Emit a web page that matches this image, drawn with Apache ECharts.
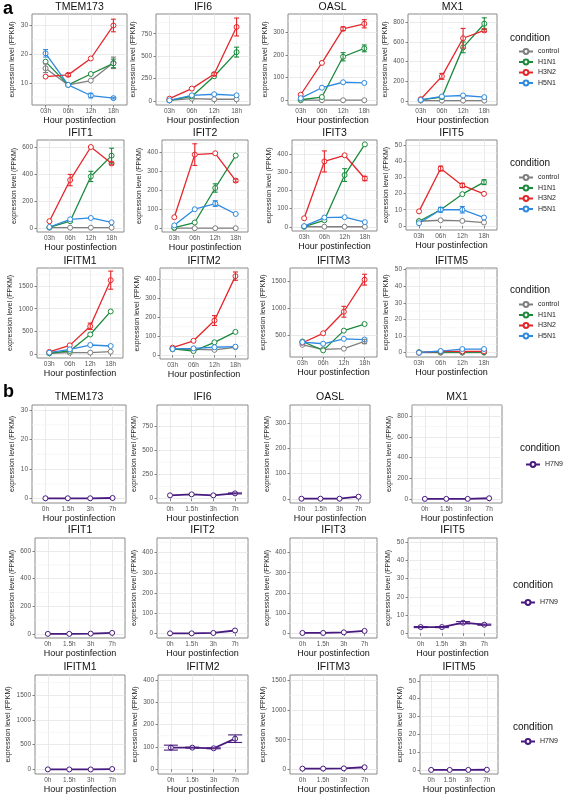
<!DOCTYPE html>
<html><head><meta charset="utf-8">
<script src="https://cdn.jsdelivr.net/npm/echarts@6/dist/echarts.min.js"></script>
<style>html,body{margin:0;padding:0;background:#fff}#c{width:567px;height:796px}</style>
</head><body><div id="c"></div><script>
// ---------- DATA ----------
const timesA = ['03h','06h','12h','18h'];
const timesB = ['0h','1.5h','3h','7h'];
const genes = ['TMEM173','IFI6','OASL','MX1','IFIT1','IFIT2','IFIT3','IFIT5','IFITM1','IFITM2','IFITM3','IFITM5'];
const conditionsA = ['control','H1N1','H3N2','H5N1'];
const conditionB = 'H7N9';

// panel a: mean FPKM at 03h, 06h, 12h, 18h
const control = {TMEM173:[15.1,9.3,10.8,17],IFI6:[7,26,19,19],OASL:[1,1,1,1],MX1:[3,3,3,3],
  IFIT1:[2,2,2,2],IFIT2:[0,0,0,0],IFIT3:[0.5,0.5,0.5,0.5],IFIT5:[2.9,3.5,3.1,2.1],
  IFITM1:[15,29,29,51],IFITM2:[31,31,28,42],IFITM3:[330,245,258,391],IFITM5:[0,0,0,0]};
const H1N1 = {TMEM173:[17.4,9.3,13.1,16.8],IFI6:[7,50,276,545],OASL:[3,15,192,229],MX1:[10,38,545,786],
  IFIT1:[5,50,382,536],IFIT2:[3,30,212,383],IFIT3:[1,36,285,454],IFIT5:[2.9,10,19.6,27],
  IFITM1:[15,66,430,940],IFITM2:[33,22,68,123],IFITM3:[391,227,591,712],IFITM5:[0.3,0.3,0.3,0.3]};
const H3N2 = {TMEM173:[12.2,12.8,18.5,30],IFI6:[26,138,300,825],OASL:[25,165,315,337],MX1:[17,250,638,718],
  IFIT1:[50,355,600,478],IFIT2:[58,388,395,251],IFIT3:[47,360,394,266],IFIT5:[9,35.4,25,19.8],
  IFITM1:[44,189,612,1631],IFITM2:[40,76,183,417],IFITM3:[367,542,939,1530],IFITM5:[0,0.8,0.8,0.8]};
const H5N1 = {TMEM173:[20.3,9.3,5.6,4.7],IFI6:[7,63,75,63],OASL:[10,56,80,77],MX1:[10,45,55,38],
  IFIT1:[7,64,74,42],IFIT2:[15,100,130,75],IFIT3:[4,51,53,26],IFIT5:[1.7,10,10,5.2],
  IFITM1:[29,102,197,175],IFITM2:[33,36,42,45],IFITM3:[379,349,439,427],IFITM5:[0,1,2.2,2.2]};
// error half-widths (panel a)
const errControl = {TMEM173:[1.5,0,0,2],IFITM3:[0,0,0,40]};
const errH1N1 = {TMEM173:[0,0,0,1.5],IFI6:[0,0,0,55],OASL:[0,0,18,15],MX1:[0,0,55,60],IFIT1:[0,0,38,55],
  IFIT2:[0,0,22,0],IFIT3:[0,0,35,0],IFIT5:[0,0,0,1.5]};
const errH3N2 = {TMEM173:[0,0.5,0,2.2],IFI6:[0,0,15,100],OASL:[0,0,8,18],MX1:[0,30,100,15],IFIT1:[0,42,0,10],
  IFIT2:[0,57,0,8],IFIT3:[0,58,0,12],IFIT5:[0,1.5,1.3,0],IFITM1:[0,0,70,200],IFITM2:[0,0,26,22],IFITM3:[0,0,100,100]};
const errH5N1 = {TMEM173:[1.3,0,0.8,0.3],IFIT2:[0,0,15,0],IFIT5:[0,1.5,2,0]};

// panel b: H7N9 at 0h, 1.5h, 3h, 7h
const H7N9 = {TMEM173:[0.1,0.1,0.1,0.2],IFI6:[34,44,34,54],OASL:[1,1,1,9],MX1:[0,0,0,6],
  IFIT1:[0,0,2,7],IFIT2:[1,1,3,15],IFIT3:[2,2,5,12],IFIT5:[3.4,3.4,5.8,4.7],
  IFITM1:[3,2,2,10],IFITM2:[97,97,94,137],IFITM3:[11,12,15,34],IFITM5:[0,0,0,0.1]};
const errH7N9 = {IFI6:[0,0,0,5],IFIT5:[0.3,0.3,0.6,0.3],IFITM2:[11,2,2,17]};

// y tick labels and axis limits
const yTicksA = {TMEM173:[10,20,30],IFI6:[0,250,500,750],OASL:[0,100,200,300],MX1:[0,200,400,600,800],
  IFIT1:[0,200,400,600],IFIT2:[0,100,200,300,400],IFIT3:[0,100,200,300,400],IFIT5:[0,10,20,30,40,50],
  IFITM1:[0,500,1000,1500],IFITM2:[0,100,200,300,400],IFITM3:[500,1000,1500],IFITM5:[0,10,20,30,40,50]};
const yTicksB = {TMEM173:[0,10,20,30],IFI6:[0,250,500,750],OASL:[0,100,200,300],MX1:[0,200,400,600,800],
  IFIT1:[0,200,400,600],IFIT2:[0,100,200,300,400],IFIT3:[0,100,200,300,400],IFIT5:[0,10,20,30,40,50],
  IFITM1:[0,500,1000,1500],IFITM2:[0,100,200,300,400],IFITM3:[0,500,1000,1500],IFITM5:[0,10,20,30,40,50]};
const yLimitsA = {TMEM173:[2.3,34],IFI6:[-45,970],OASL:[-20,380],MX1:[-42,885],IFIT1:[-30,652],IFIT2:[-20,465],
  IFIT3:[-23,478],IFIT5:[-2.5,53],IFITM1:[-90,1900],IFITM2:[-20,460],IFITM3:[105,1745],IFITM5:[-2.6,51]};
const yLimitsB = {TMEM173:[-1.5,31.7],IFI6:[-45,965],OASL:[-16,372],MX1:[-40,910],IFIT1:[-30,695],IFIT2:[-22,472],
  IFIT3:[-23,472],IFIT5:[-2.6,52.3],IFITM1:[-90,1900],IFITM2:[-21,422],IFITM3:[-80,1596],IFITM5:[-2.3,53.3]};

// ---------- STYLE / LAYOUT ----------
const colorsA = {control:'#7f7f7f',H1N1:'#1c8a3c',H3N2:'#e5262b',H5N1:'#2e8ae0'};
const colorB = '#48197f';
const valuesA = {control, H1N1, H3N2, H5N1};
const errorsA = {control:errControl, H1N1:errH1N1, H3N2:errH3N2, H5N1:errH5N1};
const boxesA = [
 [32,127,14,105],[156,250,14,105],[288,377,14,105],[408,497,14,105],
 [37,124,140,232],[162,248,140,232],[292,377,140,231],[406,497,140,230],
 [37,123,268,358],[160,248,268,359],[290,377,268,357],[406,497,268,357]];
const boxesB = [
 [32,126,405,503],[157,248,405,503],[290,370,405,503],[412,502,405,503],
 [35,125,538,638],[157,248,538,638],[290,377,538,638],[408,497,538,638],
 [35,125,675,774],[158,248,675,774],[290,377,675,774],[420,498,675,774]];

const FONT = 'Liberation Sans, Arial, sans-serif';
const grids=[], xAxes=[], yAxes=[], series=[], graphics=[], legends=[];
let gi = 0;

function errRenderer(half){
  return function(params, api){
    const x = api.value(0), lo = api.value(1), hi = api.value(2);
    const p1 = api.coord([x, lo]), p2 = api.coord([x, hi]);
    const st = {stroke: api.visual('color'), lineWidth: 1.1};
    return {type:'group', children:[
      {type:'line', shape:{x1:p1[0],y1:p1[1],x2:p2[0],y2:p2[1]}, style:st},
      {type:'line', shape:{x1:p1[0]-half,y1:p1[1],x2:p1[0]+half,y2:p1[1]}, style:st},
      {type:'line', shape:{x1:p2[0]-half,y1:p2[1],x2:p2[0]+half,y2:p2[1]}, style:st}]};
  };
}
function minorRender(params, api){
  const cs = params.coordSys;
  const y = api.coord([1, api.value(1)])[1];
  return {type:'line', shape:{x1:cs.x, y1:y, x2:cs.x+cs.width, y2:y}, style:{stroke:'#f2f2f2', lineWidth:0.7}};
}

function addPanel(gene, box, cats, ticks, lim, defs, capHalf, lineW, titleGap){
  const [l, r, t, b] = box;
  grids.push({left:l, top:t, width:r-l, height:b-t, show:true, borderColor:'#8a8a8a', borderWidth:1, backgroundColor:'#fff'});
  const maxLab = Math.max(...ticks.map(v=>String(v).length));
  xAxes.push({gridIndex:gi, type:'value', min:0.4, max:4.6,
    axisLine:{show:false},
    axisTick:{show:true, customValues:[1,2,3,4], length:2.5, lineStyle:{color:'#666', width:0.8}},
    axisLabel:{customValues:[1,2,3,4], formatter:v=>cats[Math.round(v)-1], fontSize:6.5, color:'#555', margin:3, fontFamily:FONT},
    splitLine:{show:true, lineStyle:{color:'#e4e4e4', width:0.8}},
    name:'Hour postinfection', nameLocation:'middle', nameGap:8,
    nameTextStyle:{fontSize:9, color:'#111', fontFamily:FONT}});
  yAxes.push({gridIndex:gi, type:'value', min:lim[0], max:lim[1],
    axisLine:{show:false},
    axisTick:{show:true, customValues:ticks, length:2.5, lineStyle:{color:'#666', width:0.8}},
    axisLabel:{customValues:ticks, formatter:v=>String(v), fontSize:6.5, color:'#555', margin:4, fontFamily:FONT},
    splitLine:{show:true, lineStyle:{color:'#e4e4e4', width:0.8}},
    name:'expression level (FPKM)', nameLocation:'middle', nameGap: maxLab*3.6 + 9,
    nameTextStyle:{fontSize:7, color:'#222', fontFamily:FONT}});
  // minor grid lines halfway between the major ticks
  const step = ticks[1]-ticks[0];
  const minors = [];
  for (let v = ticks[0]-step/2; v <= lim[1]; v += step) if (v >= lim[0]) minors.push([1, v]);
  series.push({type:'custom', xAxisIndex:gi, yAxisIndex:gi, z:1, silent:true, data:minors,
    renderItem:minorRender, encode:{x:0, y:1}});
  defs.forEach(d => {
    series.push({type:'line', name:d.name, xAxisIndex:gi, yAxisIndex:gi, z:2,
      data:d.values.map((v,i)=>[i+1, v]),
      symbol:'circle', symbolSize:5, showAllSymbol:true,
      lineStyle:{color:d.color, width:lineW},
      itemStyle:{color:'#fff', borderColor:d.color, borderWidth:1},
      emphasis:{disabled:true}, animation:false});
    const err = d.err || [];
    const eb = [];
    d.values.forEach((v,i) => { if (err[i]) eb.push([i+1, v-err[i], v+err[i]]); });
    if (eb.length) series.push({type:'custom', xAxisIndex:gi, yAxisIndex:gi, z:3, silent:true,
      itemStyle:{color:d.color}, data:eb, renderItem:errRenderer(capHalf), encode:{x:0, y:[1,2]}});
  });
  graphics.push({type:'text', x:(l+r)/2, y:t-titleGap, style:{text:gene, fill:'#111', font:'10.5px '+FONT,
    align:'center', verticalAlign:'bottom'}});
  gi++;
}

genes.forEach((g, k) => {
  addPanel(g, boxesA[k], timesA, yTicksA[g], yLimitsA[g],
    conditionsA.map(c => ({name:c, values:valuesA[c][g], err:errorsA[c][g], color:colorsA[c]})), 2.5, 1.3, 1);
});
genes.forEach((g, k) => {
  addPanel(g, boxesB[k], timesB, yTicksB[g], yLimitsB[g],
    [{name:conditionB, values:H7N9[g], err:errH7N9[g], color:colorB}], 7, 1.8, 2);
});

// legends
const legA = [[513,43,510,38],[513,169,510,163],[513,296,510,290]];
legA.forEach(p => {
  legends.push({orient:'vertical', left:p[0], top:p[1], data:conditionsA, itemWidth:14, itemHeight:6, itemGap:3.5,
    textStyle:{fontSize:7, color:'#222', fontFamily:FONT}, selectedMode:false});
  graphics.push({type:'text', x:p[2], y:p[3], style:{text:'condition', fill:'#111', font:'10px '+FONT, verticalAlign:'middle'}});
});
const legB = [[520,456,520,448],[515,594,513,585],[515,733,513,727]];
legB.forEach(p => {
  legends.push({orient:'vertical', left:p[0], top:p[1], data:[conditionB], itemWidth:14, itemHeight:6,
    textStyle:{fontSize:7, color:'#222', fontFamily:FONT}, selectedMode:false});
  graphics.push({type:'text', x:p[2], y:p[3], style:{text:'condition', fill:'#111', font:'10px '+FONT, verticalAlign:'middle'}});
});
graphics.push({type:'text', x:3, y:0, style:{text:'a', fill:'#000', font:'bold 18px '+FONT}});
graphics.push({type:'text', x:3, y:383, style:{text:'b', fill:'#000', font:'bold 18px '+FONT}});

const chart = echarts.init(document.getElementById('c'), null, {renderer:'canvas', width:567, height:796});
chart.setOption({animation:false, backgroundColor:'#fff', textStyle:{fontFamily:FONT},
  grid:grids, xAxis:xAxes, yAxis:yAxes, series:series, legend:legends, graphic:graphics});
</script></body></html>
